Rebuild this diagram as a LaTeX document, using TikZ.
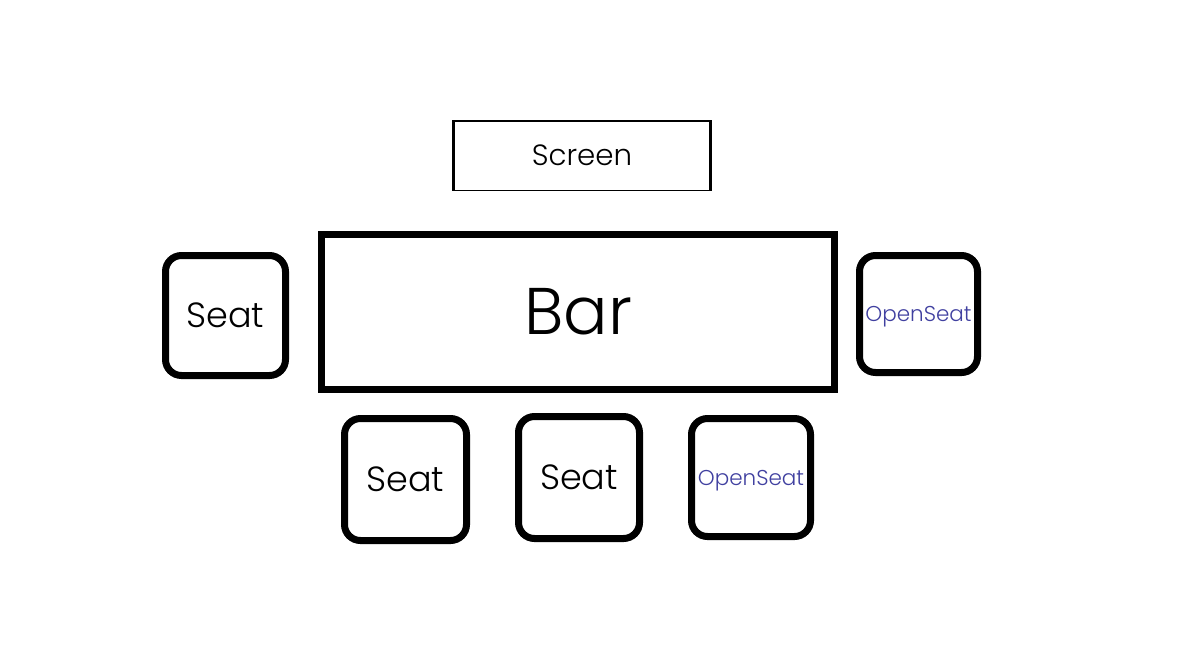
\documentclass[tikz,border=0pt]{standalone}
\usepackage{fontspec}
\setmainfont{Poppins}[UprightFont={* Light}]
\begin{document}
\begin{tikzpicture}[x=1pt,y=-1pt,
  seatbox/.style={draw=black,line width=7pt,rounded corners=16pt,inner sep=0pt,fill=white},
  seatlabel/.style={font=\fontsize{35}{40}\selectfont},
  openlabel/.style={font=\fontsize{21.5}{26}\selectfont,text=openblue,text depth=0pt},
]
\definecolor{openblue}{RGB}{64,64,160}
\useasboundingbox (0,0) rectangle (1180,646);
\fill[white] (0,0) rectangle (1180,646);
% Screen
\node[draw=black,line width=1.5pt,minimum width=256pt,minimum height=69.5pt,inner sep=0pt,
  font=\fontsize{29.3}{34}\selectfont] (screen) at (582,155.5) {Screen};
\draw[line width=3pt] (screen.north west) -- (screen.south west);
\draw[line width=3pt] (screen.north east) -- (screen.south east);
% Bar
\node[draw=black,line width=7pt,minimum width=513pt,minimum height=155pt,inner sep=0pt,
  font=\fontsize{66}{70}\selectfont] (bar) at (578,312) {Bar};
% Seats
\node[seatbox,minimum width=120pt,minimum height=120pt,seatlabel] (seatL) at (225.5,315.5) {Seat};
\node[seatbox,minimum width=118pt,minimum height=117pt,openlabel] (openR) at (918.5,314) {OpenSeat};
\node[seatbox,minimum width=122pt,minimum height=122pt,seatlabel] (seatB1) at (405.5,479.5) {Seat};
\node[seatbox,minimum width=121pt,minimum height=122pt,seatlabel] (seatB2) at (579,477.5) {Seat};
\node[seatbox,minimum width=119pt,minimum height=118pt,openlabel] (openB) at (751,477.5) {OpenSeat};
\end{tikzpicture}
\end{document}
